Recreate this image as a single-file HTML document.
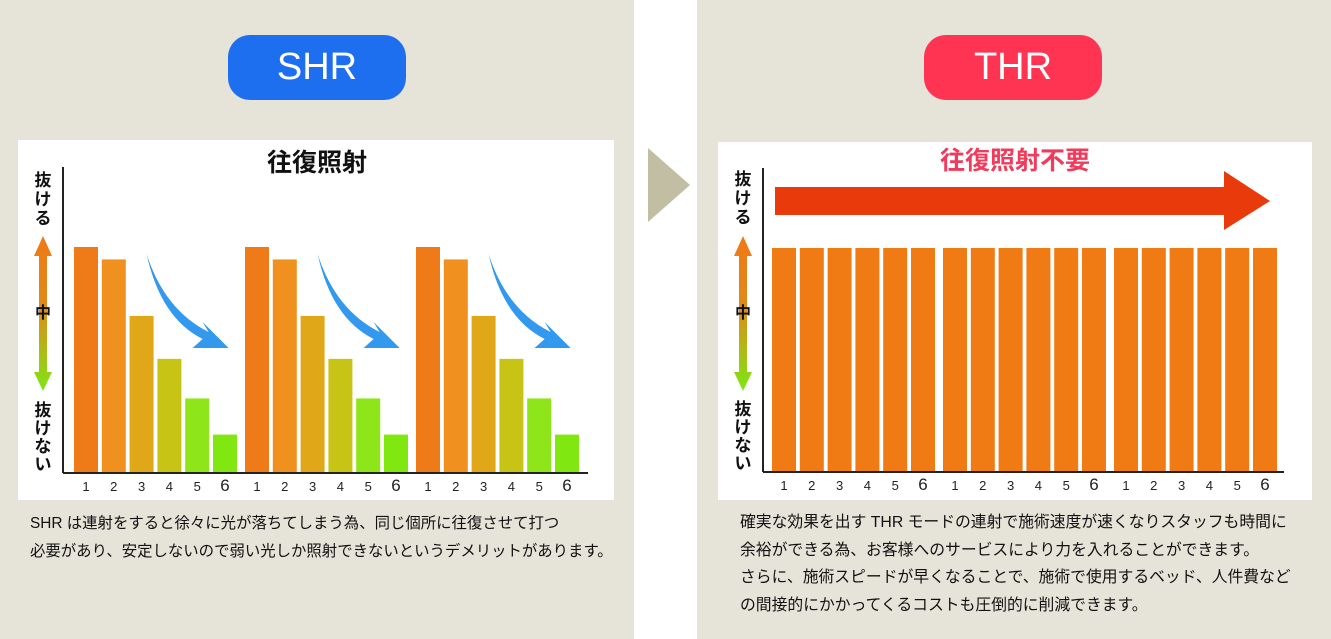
<!DOCTYPE html>
<html><head><meta charset="utf-8">
<style>
body{margin:0;width:1331px;height:639px;background:#fff;position:relative;overflow:hidden;font-family:"Liberation Sans","Noto Sans CJK JP",sans-serif;}
.panel{position:absolute;top:0;height:639px;background:#e6e3d9;}
.pill{position:absolute;top:35px;width:178px;height:65px;border-radius:22px;color:#fff;font-size:38px;line-height:65px;text-align:center;}
.desc{position:absolute;font-size:15.4px;color:#111;line-height:27.5px;white-space:nowrap;}
</style></head><body>
<div class="panel" style="left:0;width:634px"></div>
<div class="panel" style="left:697px;width:634px"></div>
<div class="pill" style="left:228px;background:#1e6ff0">SHR</div>
<div class="pill" style="left:924px;background:#ff3352">THR</div>
<svg style="position:absolute;left:0;top:0" width="1331" height="639"><polygon points="648,148 690,185 648,222" fill="#c2bea3"/></svg>
<svg id="chart" style="position:absolute;left:0;top:0" width="1331" height="639"></svg>
<div class="desc" style="left:30px;top:510px">SHR は連射をすると徐々に光が落ちてしまう為、同じ個所に往復させて打つ<br>必要があり、安定しないので弱い光しか照射できないというデメリットがあります。</div>
<div class="desc" style="left:740px;top:509px;font-size:15.8px">確実な効果を出す THR モードの連射で施術速度が速くなりスタッフも時間に<br>余裕ができる為、お客様へのサービスにより力を入れることができます。<br>さらに、施術スピードが早くなることで、施術で使用するベッド、人件費など<br>の間接的にかかってくるコストも圧倒的に削減できます。</div>
<script>
const categories=["1","2","3","4","5","6"];
const shrValues=[100,94.5,69.5,50.5,33,17];
const thrValues=[100,100,100,100,100,100];
const groups=[0,1,2];
const shrColors=["#ee7a18","#f0901e","#e0a818","#c8c416","#8ee51a","#80e810"];
const svg=document.getElementById('chart');
const NS="http://www.w3.org/2000/svg";
function mk(tag,attrs,name){const e=document.createElementNS(NS,tag);for(const k in attrs)e.setAttribute(k,attrs[k]);


svg.appendChild(e);return e;}
function txt(x,y,s,attrs,name){const t=mk('text',Object.assign({x:x,y:y},attrs),name);t.textContent=s;return t;}
const defs=document.createElementNS(NS,'defs');
defs.innerHTML='<linearGradient id="yg" x1="0" y1="0" x2="0" y2="1"><stop offset="0" stop-color="#f07818"/><stop offset="0.45" stop-color="#e08a18"/><stop offset="1" stop-color="#7ee614"/></linearGradient>';
svg.appendChild(defs);
function chart(o){
  mk('rect',{x:o.bx,y:o.by,width:o.bw,height:o.bh,fill:'#fff'},o.id+'-background');
  const y0=o.base,yTop=o.top;
  const yScale=v=>y0-(y0-yTop)*v/100;
  const xScale=(g,i)=>o.x0+g*o.gp+i*o.bp;
  groups.forEach(g=>categories.forEach((c,i)=>{
    const v=o.values[i];
    mk('rect',{x:xScale(g,i),y:yScale(v),width:o.barW,height:y0-yScale(v),fill:o.colors(i)},o.id+'-bar-g'+(g+1)+'-'+c);
    txt(xScale(g,i)+o.barW/2,y0+18,c,{'font-size':c==='6'?17:13,'text-anchor':'middle',fill:'#222'},o.id+'-tick-'+(g+1)+'-'+c);
  }));
  mk('line',{x1:o.ax,y1:o.ayTop,x2:o.ax,y2:y0,stroke:'#222','stroke-width':2},o.id+'-y-axis');
  mk('line',{x1:o.ax,y1:y0,x2:o.axEnd,y2:y0,stroke:'#222','stroke-width':2},o.id+'-x-axis');
  const lx=o.ax-20;
  ['抜','け','る'].forEach((s,i)=>txt(lx,y0-287+i*19,s,{'font-size':17,'font-weight':'bold','text-anchor':'middle',fill:'#111'},o.id+'-y-label-high'));
  mk('polygon',{points:`${lx},236 ${lx+9},256 ${lx+4},256 ${lx+4},372 ${lx+9},372 ${lx},391 ${lx-9},372 ${lx-4},372 ${lx-4},256 ${lx-9},256`,fill:'url(#yg)'},o.id+'-y-arrow');
  txt(lx,318,'中',{'font-size':16,'font-weight':'bold','text-anchor':'middle',fill:'#111'},o.id+'-y-label-mid');
  ['抜','け','な','い'].forEach((s,i)=>txt(lx,y0-57+i*18,s,{'font-size':17,'font-weight':'bold','text-anchor':'middle',fill:'#111'},o.id+'-y-label-low'));
  return {xScale,yScale};
}
const L=chart({id:'shr',bx:18,by:140,bw:596,bh:360,base:473,top:247,x0:74,gp:171,bp:27.8,barW:24,ax:63,ayTop:167,axEnd:588,values:shrValues,colors:i=>shrColors[i]});
txt(317,171,'往復照射',{'font-size':25,'font-weight':'bold','text-anchor':'middle',fill:'#111'},'shr-title');
groups.forEach(g=>{
  const x=L.xScale(g,2)+17;
  mk('path',{d:`M${x},254 Q${x+18},310 ${x+62},332 L${x+56},322 L${x+82},348 L${x+46},348 L${x+56},339 Q${x+14},318 ${x},254 Z`,fill:'#3399ee'},'shr-decline-arrow-'+(g+1));
});
const R=chart({id:'thr',bx:718,by:142,bw:594,bh:358,base:472,top:248,x0:772,gp:171,bp:27.8,barW:24,ax:763,ayTop:168,axEnd:1284,values:thrValues,colors:i=>'#f07a14'});
txt(1015,169,'往復照射不要',{'font-size':25,'font-weight':'bold','text-anchor':'middle',fill:'#f03c5c'},'thr-title');
mk('polygon',{points:'775,187 1224,187 1224,171 1270,201 1224,230 1224,215 775,215',fill:'#e83a0a'},'thr-continuous-arrow');
</script>
</body></html>
